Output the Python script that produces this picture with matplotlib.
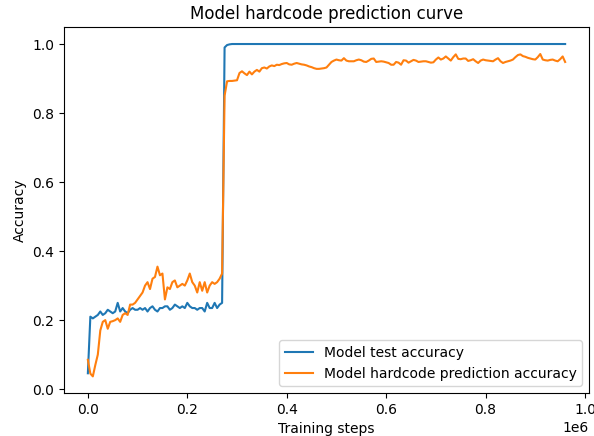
import numpy as np
import matplotlib
matplotlib.use("Agg")
import matplotlib.pyplot as plt

# evaluation every 5000 training steps
step_size = 5000

# Model test accuracy
test_acc = [
    0.046, 0.21, 0.205, 0.21, 0.215, 0.225, 0.215, 0.22, 0.23, 0.225,
    0.22, 0.225, 0.25, 0.225, 0.235, 0.225, 0.22, 0.23, 0.235, 0.23,
    0.23, 0.235, 0.23, 0.235, 0.225, 0.235, 0.24, 0.23, 0.225, 0.235,
    0.235, 0.24, 0.24, 0.23, 0.235, 0.245, 0.24, 0.235, 0.24, 0.235,
    0.25, 0.24, 0.235, 0.235, 0.23, 0.235, 0.235, 0.225, 0.25, 0.235,
    0.235, 0.25, 0.235, 0.245, 0.25, 0.99, 0.997,
    0.999, 1.0, 1.0, 1.0, 1.0, 1.0, 1.0, 1.0, 1.0, 1.0, 1.0, 1.0, 1.0, 1.0, 1.0, 1.0, 1.0,
    1.0, 1.0, 1.0, 1.0, 1.0, 1.0, 1.0, 1.0, 1.0, 1.0, 1.0, 1.0, 1.0, 1.0, 1.0, 1.0, 1.0,
    1.0, 1.0, 1.0, 1.0, 1.0, 1.0, 1.0, 1.0, 1.0, 1.0, 1.0, 1.0, 1.0, 1.0, 1.0, 1.0, 1.0,
    1.0, 1.0, 1.0, 1.0, 1.0, 1.0, 1.0, 1.0, 1.0, 1.0, 1.0, 1.0, 1.0, 1.0, 1.0, 1.0, 1.0,
    1.0, 1.0, 1.0, 1.0, 1.0, 1.0, 1.0, 1.0, 1.0, 1.0, 1.0, 1.0, 1.0, 1.0, 1.0, 1.0, 1.0,
    1.0, 1.0, 1.0, 1.0, 1.0, 1.0, 1.0, 1.0, 1.0, 1.0, 1.0, 1.0, 1.0, 1.0, 1.0, 1.0, 1.0,
    1.0, 1.0, 1.0, 1.0, 1.0, 1.0, 1.0, 1.0, 1.0, 1.0, 1.0, 1.0, 1.0, 1.0, 1.0, 1.0, 1.0,
    1.0, 1.0, 1.0, 1.0, 1.0, 1.0, 1.0, 1.0, 1.0, 1.0, 1.0, 1.0, 1.0, 1.0, 1.0, 1.0, 1.0,
]

# Model hardcode prediction accuracy
hardcode_acc = [
    0.085, 0.045, 0.037, 0.07, 0.10, 0.17, 0.195, 0.20, 0.175, 0.195,
    0.197, 0.20, 0.205, 0.195, 0.215, 0.22, 0.215, 0.245, 0.245, 0.25,
    0.26, 0.27, 0.28, 0.30, 0.31, 0.29, 0.32, 0.325, 0.355, 0.33,
    0.335, 0.26, 0.295, 0.29, 0.31, 0.315, 0.295, 0.30, 0.305, 0.30,
    0.315, 0.335, 0.31, 0.30, 0.28, 0.31, 0.285, 0.31, 0.28, 0.30,
    0.31, 0.305, 0.31, 0.32, 0.335, 0.85, 0.892,
    0.893, 0.893, 0.894, 0.895, 0.916, 0.921, 0.915, 0.910, 0.920, 0.912,
    0.920, 0.925, 0.920, 0.930, 0.932, 0.929, 0.935, 0.938, 0.936, 0.940,
    0.939, 0.942, 0.944, 0.945, 0.941, 0.940, 0.943, 0.945, 0.943, 0.941,
    0.940, 0.938, 0.935, 0.933, 0.930, 0.928, 0.928, 0.929, 0.930, 0.932,
    0.940, 0.948, 0.952, 0.955, 0.953, 0.952, 0.959, 0.952, 0.950, 0.950,
    0.950, 0.953, 0.955, 0.953, 0.949, 0.948, 0.952, 0.957, 0.958, 0.948,
    0.949, 0.950, 0.949, 0.947, 0.945, 0.940, 0.940, 0.948, 0.946, 0.940,
    0.953, 0.952, 0.946, 0.950, 0.954, 0.952, 0.948, 0.949, 0.950, 0.950,
    0.948, 0.946, 0.947, 0.955, 0.961, 0.955, 0.958, 0.964, 0.958, 0.952,
    0.962, 0.970, 0.957, 0.956, 0.958, 0.958, 0.951, 0.953, 0.956, 0.950,
    0.945, 0.952, 0.955, 0.953, 0.952, 0.951, 0.950, 0.955, 0.959, 0.950,
    0.945, 0.948, 0.950, 0.952, 0.955, 0.962, 0.968, 0.970, 0.965, 0.963,
    0.960, 0.958, 0.956, 0.955, 0.962, 0.971, 0.955, 0.953, 0.952, 0.954,
    0.955, 0.952, 0.950, 0.956, 0.964, 0.948,
]

steps = np.arange(len(test_acc)) * step_size

fig = plt.figure(figsize=(5.94, 4.36), dpi=100)
ax = fig.add_axes([64 / 594, 43 / 436, 525 / 594, 365.6 / 436])

ax.plot(steps, test_acc, label="Model test accuracy")
ax.plot(steps, hardcode_acc, label="Model hardcode prediction accuracy")

ax.set_title("Model hardcode prediction curve")
ax.set_xlabel("Training steps")
ax.set_ylabel("Accuracy")
ax.legend(loc="lower right")

fig.savefig("out.png", dpi=100)
